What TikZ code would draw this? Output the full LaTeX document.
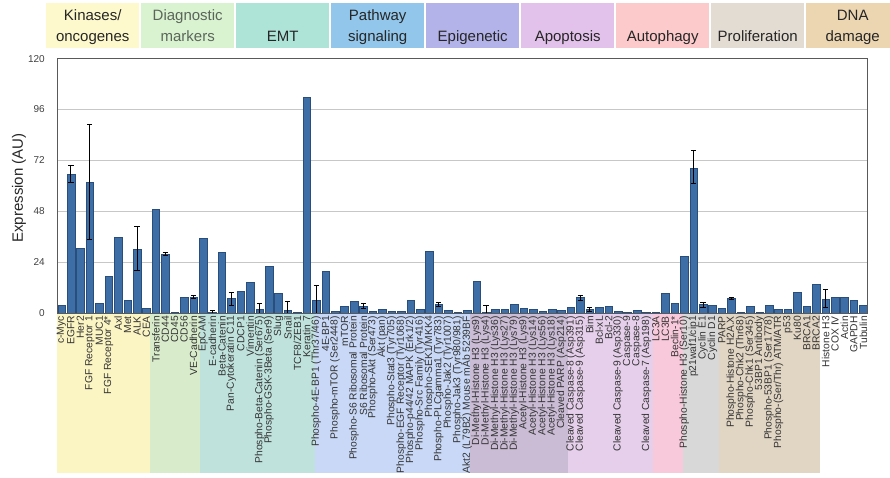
\documentclass[tikz,border=0pt]{standalone}
\usepackage{fontspec}
\setmainfont{Liberation Sans}
\usetikzlibrary{calc,positioning}
\definecolor{hdkin}{HTML}{FDF9CC}
\definecolor{hddia}{HTML}{D9F2D0}
\definecolor{hdemt}{HTML}{AEE4D8}
\definecolor{hdpath}{HTML}{92C6EA}
\definecolor{hdepi}{HTML}{B3B3EA}
\definecolor{hdapo}{HTML}{E2C2EA}
\definecolor{hdaut}{HTML}{FCCACA}
\definecolor{hdpro}{HTML}{E3DCD3}
\definecolor{hddna}{HTML}{ECD6B2}
\definecolor{bdkin}{HTML}{FBF4C3}
\definecolor{bddia}{HTML}{D8EBCB}
\definecolor{bdemt}{HTML}{BFE2DC}
\definecolor{bdpath}{HTML}{C8D8F6}
\definecolor{bdepi}{HTML}{C9BCD4}
\definecolor{bdapo}{HTML}{E5CFEA}
\definecolor{bdaut}{HTML}{F8C9DB}
\definecolor{bdpro}{HTML}{D8D8D8}
\definecolor{bddna}{HTML}{E1D5C3}
\definecolor{barblue}{HTML}{3E6EA6}
\definecolor{baredge}{HTML}{2A4E7C}
\definecolor{diagtxt}{HTML}{5B665B}

\begin{document}
\begin{tikzpicture}[x=1pt,y=-1pt]

\tikzset{headbox/.style={fill=#1,draw=none,minimum width=93pt,minimum height=45pt,inner sep=0pt,anchor=north west},
headtxt/.style={font=\fontsize{15}{18}\selectfont,anchor=base,inner sep=0pt},
barfill/.style={fill=barblue,draw=baredge,line width=0.4pt},
errbar/.style={black,line width=0.9pt},
gridline/.style={black!22,line width=0.8pt},
frameline/.style={black!65,line width=0.8pt},
barlabel/.style={rotate=90,anchor=east,font=\fontsize{10.3}{11}\selectfont,text=black!80,inner sep=1pt},
ticklabel/.style={anchor=east,font=\fontsize{10}{12}\selectfont,text=black!75,inner sep=1pt}}

\useasboundingbox (0,0) rectangle (890,478);

% Category header
\foreach \col/\nm/\ta/\tb/\tc [count=\k from 0] in {hdkin/kin/{Kinases/}/oncogenes/black!85, hddia/dia/Diagnostic/markers/diagtxt,
  hdemt/emt/{}/EMT/black!85, hdpath/path/Pathway/signaling/black!85, hdepi/epi/{}/Epigenetic/black!85,
  hdapo/apo/{}/Apoptosis/black!85, hdaut/aut/{}/Autophagy/black!85, hdpro/pro/{}/Proliferation/black!85, hddna/dna/DNA/damage/black!85}
{
  \node[headbox=\col] (\nm) at ({46+95*\k},3) {};
  \node[headtxt,text=\tc] (\nm b) at ($(\nm.south)+(0,-7)$) {\tb};
  \node[headtxt,text=\tc] (\nm a) at ($(\nm.south)+(0,-27.5)$) {\ta};
}

% Label bands
\foreach \xa/\xb/\col in {57/150/bdkin, 150/200/bddia, 200/315/bdemt, 315/470/bdpath, 470/568/bdepi,
  568/653/bdapo, 653/683/bdaut, 683/719/bdpro, 719/820/bddna}
  \fill[\col] (\xa,313) rectangle (\xb,473);

% Axis and grid
\foreach \v in {24,48,72,96} \draw[gridline] (57,{313-2.12*\v}) -- (867,{313-2.12*\v});
\foreach \v in {0,24,48,72,96,120} \node[ticklabel] (tick\v) at (46,{313-2.12*\v}) {\v};
\node[rotate=90,font=\fontsize{15}{18}\selectfont,text=black!85] (ylab) at (19,188) {Expression (AU)};

% Bars and their labels
\foreach \v/\lab [count=\i from 0] in {3.8/{c-Myc}, 65.4/{EGFR}, 30.4/{Her2}, 61.5/{FGF Receptor 1}, 4.5/{MUC1},
  17.4/{FGF Receptor 4*}, 35.6/{Axl}, 6/{Met}, 30/{ALK}, 2.5/{CEA},
  48.9/{Transferin}, 27.7/{CD44}, 0.6/{CD45}, 7.6/{CD56}, 7.6/{VE-Cadherin},
  35.1/{EpCAM}, 0.5/{E-cadherin}, 28.6/{Beta-Catenin}, 7.1/{Pan-Cytokeratin C11}, 10.4/{CDCP1}, 14.3/{Vimentin},
  1.7/{Phospho-Beta-Catenin (Ser675)}, 22/{Phospho-GSK-3Beta (Ser9)}, 9.3/{Slug}, 1.1/{Snail}, 0.6/{TCF8/ZEB1}, 102/{Keratin 7},
  6/{Phospho-4E-BP1 (Thr37/46)}, 19.8/{4E-BP1}, 0.9/{Phospho-mTOR (Ser2448)}, 3.3/{mTOR},
  5.5/{Phospho-S6 Ribosomal Protein}, 3.3/{S6 Ribosomal Protein}, 0.8/{Phospho-Akt (Ser473)}, 1.7/{Akt (pan)},
  0.8/{Phospho-Stat3 (Tyr705)}, 0.8/{Phospho-EGF Receptor (Tyr1068)}, 6.1/{Phospho-p44/42 MAPK (Erk1/2)},
  1.7/{Phospho-Src Family (Tyr416)}, 29.1/{Phospho-SEK1/MKK4}, 4.1/{Phospho-PLCgamma1 (Tyr783)},
  1.3/{Phospho-Jak2 (Tyr1007)}, 0.5/{Phospho-Jak3 (Tyr980/981)}, 1.1/{Akt2 (L79B2) Mouse mAb 5239BF},
  14.8/{Di-Methyl-Histone H3 (Lys9)}, 0.2/{Di-Methyl-Histone H3 (Lys4)}, 1.7/{Di-Methyl-Histone H3 (Lys36)},
  2/{Di-Methyl-Histone H3 (Lys27)}, 4/{Di-Methyl-Histone H3 (Lys79)}, 2.5/{Acetyl-Histone H3 (Lys9)},
  2/{Acetyl-Histone H3 (Lys14)}, 1/{Acetyl-Histone H3 (Lys56)}, 2/{Acetyl-Histone H3 (Lys18)}, 1.3/{Cleaved PARP (Asp214)},
  2.8/{Cleaved Caspase-8 (Asp391)}, 7.5/{Cleaved Caspase-9 (Asp315)}, 2/{Bim}, 2.8/{Bcl-xL}, 3.3/{Bcl-2},
  0.8/{Cleaved Caspase-9 (Asp330)}, 0.3/{Caspase-9}, 1.1/{Caspase-8}, 0.2/{Cleaved Caspase-7 (Asp198)},
  0.3/{LC3A}, 9.4/{LC3B}, 4.5/{Beclin-1*},
  26.8/{Phospho-Histone H3 (Ser10)}, 68.4/{p21waf1/cip1}, 4.2/{Cyclin E1}, 3.8/{Cyclin D1}, 2.4/{PARP},
  6.9/{Phospho-Histone H2A.X}, 0.2/{Phospho-Chk2 (Thr68)}, 3.3/{Phospho-Chk1 (Ser345)}, 0.3/{53BP1 Antibody},
  3.8/{Phospho-53BP1 (Ser1778)}, 2/{Phospho-(Ser/Thr) ATM/ATR}, 1.9/{p53}, 9.9/{Ku80}, 3/{BRCA1}, 13.8/{BRCA2},
  6.7/{Histone H3}, 7.4/{COX IV}, 7.4/{Actin}, 6/{GAPDH}, 3.8/{Tubulin}}
{
  \pgfmathsetmacro{\bx}{61.5+9.433*\i}
  \pgfmathsetmacro{\by}{313-2.12*\v}
  \filldraw[barfill] ({\bx-3.8},313) rectangle ({\bx+3.8},\by);
  \node[barlabel] (lab\i) at (\bx,315) {\lab};
}

% Error bars
\foreach \i/\lo/\hi in {1/61.8/69.6, 3/34.8/88.8, 8/20/41, 11/27/28.6, 14/6.7/8.4, 16/0/1, 18/3.6/9.9, 21/0/4.4, 24/0/5.5,
  27/0/13.2, 32/2/4.4, 40/3.3/4.9, 45/0/3.6, 55/6/8.3, 56/0.9/2.8, 67/60.9/76.5, 68/2.8/5.2, 71/6.3/7.5, 81/2.8/11.1}
{
  \pgfmathsetmacro{\bx}{61.5+9.433*\i}
  \draw[errbar] (\bx,{313-2.12*\lo}) -- (\bx,{313-2.12*\hi});
  \draw[errbar] ({\bx-2.6},{313-2.12*\lo}) -- ({\bx+2.6},{313-2.12*\lo});
  \draw[errbar] ({\bx-2.6},{313-2.12*\hi}) -- ({\bx+2.6},{313-2.12*\hi});
}

% Frame
\draw[frameline] (57,{313-2.12*120}) rectangle (867,313);

\end{tikzpicture}
\end{document}
